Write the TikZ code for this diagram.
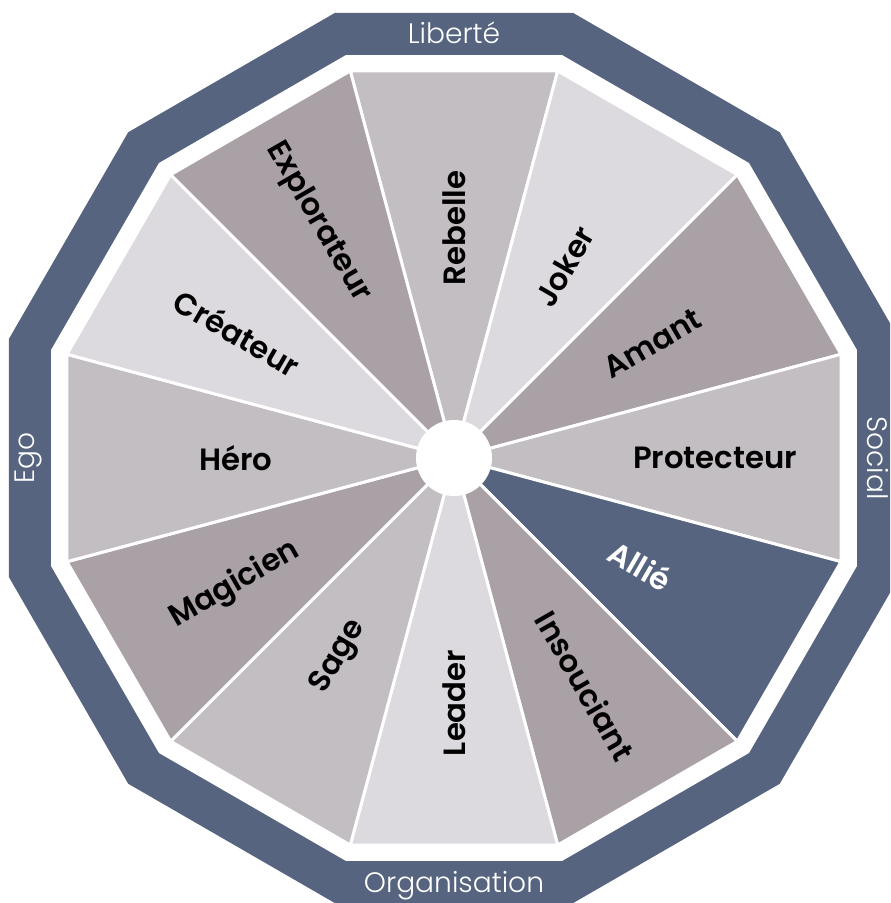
\documentclass[tikz,border=0pt]{standalone}
\usepackage{fontspec}
\setmainfont{Poppins}
\newfontfamily\thinfont{Poppins Light}
\newfontfamily\semifont{Poppins SemiBold}
\definecolor{band}{HTML}{56647F}
\definecolor{pale}{HTML}{DCDADE}
\definecolor{mid}{HTML}{C3BEC2}
\definecolor{deep}{HTML}{AAA1A7}
\begin{document}
\begin{tikzpicture}[x=0.02cm, y=0.02cm,
  arch/.style={font=\semifont\fontsize{17.5}{20}\selectfont, text=#1},
  arch/.default=black,
  axis/.style={font=\thinfont\fontsize{16}{19}\selectfont, text=white}
]
  \clip (-454,-445) rectangle (436,458);
  % cadre et anneau
  \fill[band] (15:460.7) \foreach \a in {45,75,...,345} { -- (\a:460.7) } -- cycle;
  \fill[white] (15:417.2) \foreach \a in {45,75,...,345} { -- (\a:417.2) } -- cycle;
  % secteurs, depuis le haut dans le sens horaire
  \foreach \c [count=\i] in {mid,pale,deep,mid,band,deep,pale,mid,deep,mid,pale,deep}
    \filldraw[fill=\c, draw=white, line width=1.7pt, line join=round]
      (0,0) -- ({105-30*(\i-1)}:400.7) -- ({75-30*(\i-1)}:400.7) -- cycle;
  \fill[white] (0,0) circle (38);
  % archetypes
  \node[arch, rotate=90]  (rebelle)  at (90:230)   {Rebelle};
  \node[arch, rotate=60]  (joker)    at (60:221)   {Joker};
  \node[arch, rotate=30]  (amant)    at (30:229)   {Amant};
  \node[arch]             (protect)  at (0:261)    {Protecteur};
  \node[arch=white, rotate=-30] (allie) at (-30:215) {Allié};
  \node[arch, rotate=-60] (insouc)   at (-60:263)  {Insouciant};
  \node[arch, rotate=90]  (leader)   at (-90:245)  {Leader};
  \node[arch, rotate=60]  (sage)     at (-120:230) {Sage};
  \node[arch, rotate=30]  (magicien) at (-150:253) {Magicien};
  \node[arch]             (hero)     at (180:218)  {Héro};
  \node[arch, rotate=-30] (createur) at (150:250)  {Créateur};
  \node[arch, rotate=-60] (explor)   at (120:272)  {Explorateur};
  % axes
  \node[axis]              (liberte) at (90:425)  {Liberté};
  \node[axis, rotate=-90]  (social)  at (0:424)   {Social};
  \node[axis]              (orga)    at (-90:428) {Organisation};
  \node[axis, rotate=90]   (ego)     at (180:426) {Ego};
\end{tikzpicture}
\end{document}
